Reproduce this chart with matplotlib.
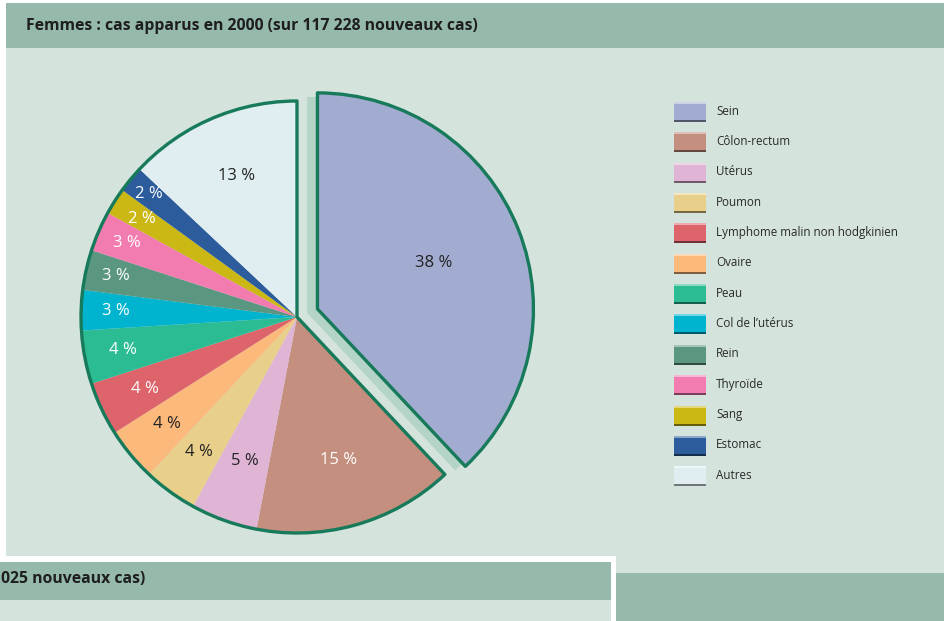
import matplotlib
matplotlib.use('Agg')
import matplotlib.pyplot as plt
import numpy as np
from matplotlib.patches import Rectangle, Wedge
from matplotlib import colors as mcolors

plt.rcParams['font.family'] = ['Open Sans', 'DejaVu Sans']

""" Data """

title = 'Femmes : cas apparus en 2000 (sur 117 228 nouveaux cas)'
next_title = '025 nouveaux cas)'

labels = ['Sein', 'Côlon-rectum', 'Utérus', 'Poumon',
          'Lymphome malin non hodgkinien', 'Ovaire', 'Peau',
          'Col de l\u2019utérus', 'Rein', 'Thyroïde', 'Sang', 'Estomac', 'Autres']
values = [38, 15, 5, 4, 4, 4, 4, 3, 3, 3, 2, 2, 13]
colors = ['#a2acd0', '#c48f7e', '#e0b4d4', '#e8d08a', '#de646c', '#fcb97c',
          '#2cbc94', '#00b4d0', '#5a9680', '#f27cb0', '#ccb814', '#2c5c9c', '#e1eef1']

# order of the slices round the pie (clockwise from 12 o'clock)
pie_order = [0, 1, 2, 3, 5, 4, 6, 7, 8, 9, 10, 11, 12]

""" Style """

W, H = 945, 621
BAND = '#95b9aa'
LIGHT = '#d4e4dc'
OUTLINE = '#177a5b'
SHADOW = '#b3d4c6'
dark_text = [True, False, True, True, True, False, False, False, False, False, False, False, True]  # pie order
label_r = [0.58, 0.69, 0.71, 0.77, 0.78, 0.78, 0.82, 0.84, 0.86, 0.86, 0.85, 0.89, 0.71]  # pie order

cx, cy, R = 297, H - 317, 216
explode_d = 22


def Y(y):
    return H - y


def mix(c, other, t):
    a = np.array(mcolors.to_rgb(c))
    b = np.array(mcolors.to_rgb(other))
    return tuple(a * (1 - t) + b * t)


fig = plt.figure(figsize=(W / 100, H / 100), dpi=100)
fig.patch.set_facecolor('white')
ax = fig.add_axes([0, 0, 1, 1])

""" Background panels """

ax.add_patch(Rectangle((6, Y(556)), W - 6, 556 - 48, color=LIGHT, lw=0, zorder=0))
ax.add_patch(Rectangle((6, Y(48)), W - 6, 45, color=BAND, lw=0, zorder=0))
ax.add_patch(Rectangle((616, Y(573)), W - 616, 17, color=LIGHT, lw=0, zorder=0))
ax.add_patch(Rectangle((616, 0), W - 616, H - 573, color=BAND, lw=0, zorder=0))
ax.add_patch(Rectangle((0, Y(600)), 611, 38, color=BAND, lw=0, zorder=0))
ax.add_patch(Rectangle((0, 0), 611, H - 600, color=LIGHT, lw=0, zorder=0))

ax.text(26, Y(26), title, fontsize=11.3, fontweight='bold', color='#1e1e1e',
        ha='left', va='center')
ax.text(145, Y(579), next_title, fontsize=11.3, fontweight='bold', color='#1e1e1e',
        ha='right', va='center')

""" Pie """

pv = [values[i] for i in pie_order]
pc = [colors[i] for i in pie_order]
explode = [explode_d] + [0] * (len(pv) - 1)   # pie() takes this in data units here

wedges, _ = ax.pie(pv, colors=pc, explode=explode, startangle=90, counterclock=False,
                   center=(cx, cy), radius=R, frame=True,
                   wedgeprops=dict(linewidth=0, zorder=2))

sein = wedges[0]
mid = np.deg2rad((sein.theta1 + sein.theta2) / 2)

# shadow of the pulled out slice
sx = cx + explode_d / 2 * np.cos(mid)
sy = cy + explode_d / 2 * np.sin(mid)
ax.add_patch(Wedge((sx, sy), R, sein.theta1, sein.theta2, color=SHADOW, lw=0, zorder=1))

sein.set_edgecolor(OUTLINE)
sein.set_linewidth(2.4)
sein.set_joinstyle('round')
sein.set_zorder(3)

# outline round the rest of the pie
ax.add_patch(Wedge((cx, cy), R, sein.theta2, sein.theta1 + 360, facecolor='none',
                   edgecolor=OUTLINE, lw=2.4, joinstyle='round', zorder=3))

for k, w in enumerate(wedges):
    a = np.deg2rad((w.theta1 + w.theta2) / 2)
    x = w.center[0] + label_r[k] * R * np.cos(a)
    y = w.center[1] + label_r[k] * R * np.sin(a)
    ax.text(x, y, '%d %%' % pv[k], fontsize=12,
            color='#222222' if dark_text[k] else 'white',
            ha='center', va='center', zorder=4)

""" Legend """

for i, lab in enumerate(labels):
    yc = 112 + i * 30.35
    ax.add_patch(Rectangle((674, Y(yc + 10)), 32, 20, color=colors[i], lw=0, zorder=2))
    ax.add_patch(Rectangle((674, Y(yc - 8)), 32, 2, color=mix(colors[i], 'white', 0.45), lw=0, zorder=3))
    ax.add_patch(Rectangle((674, Y(yc + 10)), 32, 2, color=mix(colors[i], 'black', 0.5), lw=0, zorder=3))
    ax.text(716, Y(yc - 1), lab, fontsize=8.4, color='#2a2a2a', ha='left', va='center')

ax.set_xlim(0, W)
ax.set_ylim(0, H)
ax.set_aspect('equal')
ax.set_axis_off()

fig.savefig('out.png', dpi=100)
